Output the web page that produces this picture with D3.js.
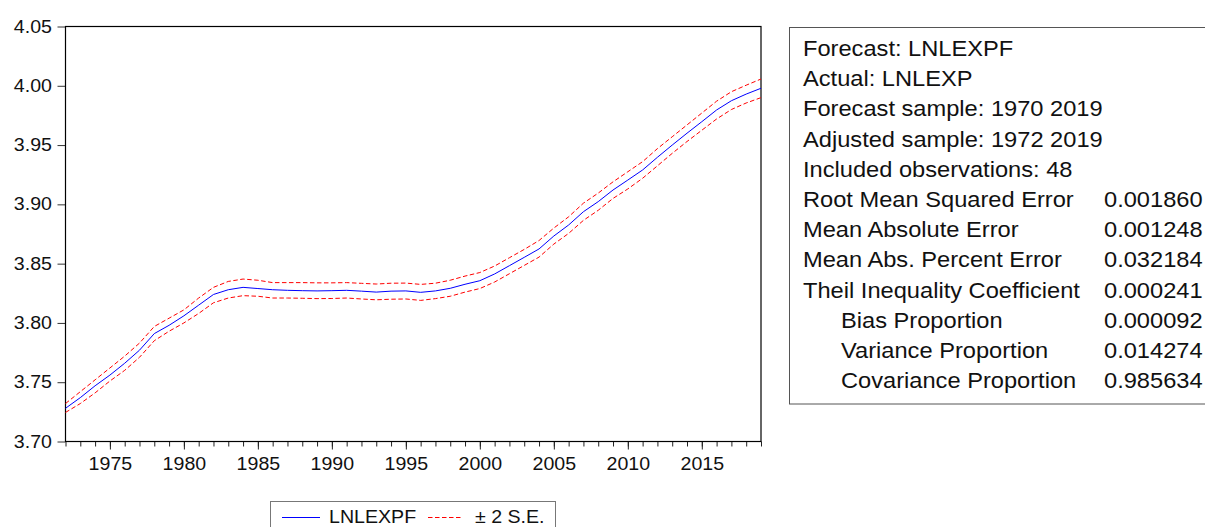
<!DOCTYPE html>
<html>
<head>
<meta charset="utf-8">
<script src="https://cdn.jsdelivr.net/npm/d3@7"></script>
<style>
  body { margin: 0; background: #fff; }
  svg { display: block; font-family: "Liberation Sans", Arial, sans-serif; }
</style>
</head>
<body>
<svg id="chart" width="1205" height="527"></svg>
<script>
// Observation years
const years = [1972, 1973, 1974, 1975, 1976, 1977, 1978, 1979, 1980, 1981,
  1982, 1983, 1984, 1985, 1986, 1987, 1988, 1989, 1990, 1991,
  1992, 1993, 1994, 1995, 1996, 1997, 1998, 1999, 2000, 2001,
  2002, 2003, 2004, 2005, 2006, 2007, 2008, 2009, 2010, 2011,
  2012, 2013, 2014, 2015, 2016, 2017, 2018, 2019];

// Forecast LNLEXPF
const forecast = [3.728, 3.737, 3.747, 3.756, 3.766, 3.777, 3.791, 3.798, 3.806, 3.815,
  3.824, 3.828, 3.830, 3.829, 3.828, 3.8275, 3.8272, 3.827, 3.8272, 3.8275,
  3.8268, 3.826, 3.8268, 3.827, 3.8258, 3.827, 3.8292, 3.8326, 3.8356, 3.8413,
  3.8483, 3.8553, 3.8624, 3.8733, 3.8826, 3.8938, 3.9023, 3.9121, 3.9205, 3.929,
  3.9397, 3.950, 3.960, 3.9697, 3.9796, 3.9874, 3.993, 3.9979];

// Forecast + 2 S.E.
const upper = [3.732, 3.742, 3.752, 3.762, 3.772, 3.783, 3.797, 3.804, 3.811, 3.821,
  3.830, 3.835, 3.837, 3.836, 3.834, 3.834, 3.834, 3.8338, 3.8338, 3.834,
  3.8334, 3.8328, 3.8335, 3.8336, 3.8325, 3.8335, 3.836, 3.8395, 3.8425, 3.848,
  3.855, 3.862, 3.8695, 3.880, 3.8895, 3.901, 3.9095, 3.919, 3.9275, 3.936,
  3.947, 3.957, 3.967, 3.977, 3.987, 3.995, 4.0005, 4.0057];

// Forecast - 2 S.E.
const lower = [3.7245, 3.732, 3.741, 3.751, 3.760, 3.771, 3.785, 3.793, 3.800, 3.808,
  3.817, 3.821, 3.823, 3.8225, 3.821, 3.821, 3.8208, 3.8205, 3.8206, 3.821,
  3.8202, 3.8195, 3.820, 3.8202, 3.819, 3.8205, 3.8225, 3.826, 3.829, 3.8345,
  3.8415, 3.8485, 3.8555, 3.8665, 3.8755, 3.8865, 3.895, 3.905, 3.913, 3.922,
  3.9325, 3.943, 3.953, 3.9625, 3.972, 3.980, 3.9855, 3.990];

const xTickLabels = [1975, 1980, 1985, 1990, 1995, 2000, 2005, 2010, 2015];
const yTickValues = [3.70, 3.75, 3.80, 3.85, 3.90, 3.95, 4.00, 4.05];

// Forecast evaluation summary
const statLabels = ["Forecast: LNLEXPF", "Actual: LNLEXP", "Forecast sample: 1970 2019",
  "Adjusted sample: 1972 2019", "Included observations: 48",
  "Root Mean Squared Error", "Mean Absolute Error", "Mean Abs. Percent Error",
  "Theil Inequality Coefficient", "Bias Proportion", "Variance Proportion",
  "Covariance Proportion"];
const statValues = ["", "", "", "", "", "0.001860", "0.001248", "0.032184",
  "0.000241", "0.000092", "0.014274", "0.985634"];
const statIndent = [0, 0, 0, 0, 0, 0, 0, 0, 0, 1, 1, 1];

const legendLabels = ["LNLEXPF", "\u00b1 2 S.E."];

const svg = d3.select("#chart");
const plotLeft = 65.5, plotRight = 761, plotTop = 26.5, plotBottom = 441.5;
const textStretch = 1.12;
const dash = "4.5,2.5";

const x = d3.scaleLinear().domain([1972, 2019]).range([plotLeft, plotRight]);
const y = d3.scaleLinear().domain([3.70, 4.05]).range([plotBottom, plotTop]);

// Minor yearly ticks
svg.append("g")
  .attr("transform", `translate(0,${plotBottom})`)
  .call(d3.axisBottom(x).tickValues(years).tickSize(5).tickFormat(""))
  .call(g => g.select(".domain").remove())
  .call(g => g.selectAll("line").attr("stroke", "#222"));

// Major ticks with labels
svg.append("g")
  .attr("transform", `translate(0,${plotBottom})`)
  .call(d3.axisBottom(x).tickValues(xTickLabels).tickSize(8).tickFormat(d3.format("d")))
  .call(g => g.select(".domain").remove())
  .call(g => g.selectAll("line").attr("stroke", "#222"))
  .call(g => g.selectAll("text")
    .attr("y", null).attr("dy", null)
    .attr("font-size", 17.5).attr("fill", "#111")
    .attr("font-family", "'Liberation Sans', Arial, sans-serif")
    .attr("transform", `translate(0,28.5) scale(${textStretch},1)`));

// Value axis
svg.append("g")
  .attr("transform", `translate(${plotLeft},0)`)
  .call(d3.axisLeft(y).tickValues(yTickValues).tickSize(8).tickFormat(d3.format(".2f")))
  .call(g => g.select(".domain").remove())
  .call(g => g.selectAll("line").attr("stroke", "#333"))
  .call(g => g.selectAll("text")
    .attr("x", null).attr("dy", null)
    .attr("font-size", 17.5).attr("fill", "#111")
    .attr("font-family", "'Liberation Sans', Arial, sans-serif")
    .attr("transform", `translate(-13.5,5.5) scale(${textStretch},1)`));

// Plot frame
svg.append("rect")
  .attr("x", plotLeft).attr("y", plotTop)
  .attr("width", plotRight - plotLeft).attr("height", plotBottom - plotTop)
  .attr("fill", "none").attr("stroke", "#000").attr("stroke-width", 1.2);

const line = d3.line().x((d, i) => x(years[i])).y(d => y(d));

svg.append("path").datum(upper).attr("d", line)
  .attr("fill", "none").attr("stroke", "#ff0000").attr("stroke-width", 1)
  .attr("stroke-dasharray", dash);
svg.append("path").datum(lower).attr("d", line)
  .attr("fill", "none").attr("stroke", "#ff0000").attr("stroke-width", 1)
  .attr("stroke-dasharray", dash);
svg.append("path").datum(forecast).attr("d", line)
  .attr("fill", "none").attr("stroke", "#0000ff").attr("stroke-width", 1);

// Legend
const legend = svg.append("g");
legend.append("rect")
  .attr("x", 270.5).attr("y", 501.5).attr("width", 285).attr("height", 40)
  .attr("fill", "#fff").attr("stroke", "#777").attr("stroke-width", 1);
legend.append("line")
  .attr("x1", 282).attr("x2", 320).attr("y1", 517.5).attr("y2", 517.5)
  .attr("stroke", "#0000ff").attr("stroke-width", 1);
legend.append("line")
  .attr("x1", 428).attr("x2", 463).attr("y1", 517.5).attr("y2", 517.5)
  .attr("stroke", "#ff0000").attr("stroke-width", 1).attr("stroke-dasharray", dash);
[[329, legendLabels[0]], [475, legendLabels[1]]].forEach(([lx, t]) => {
  legend.append("text")
    .attr("transform", `translate(${lx},523) scale(1.06,1)`)
    .attr("font-size", 18.5).attr("fill", "#111").text(t);
});

// Statistics box
const stats = svg.append("g");
stats.append("rect")
  .attr("x", 789.5).attr("y", 27.5).attr("width", 500).attr("height", 376.5)
  .attr("fill", "#fff").attr("stroke", "#555").attr("stroke-width", 1);
statLabels.forEach((t, i) => {
  const by = 56 + i * 30.2;
  stats.append("text")
    .attr("transform", `translate(${statIndent[i] ? 841 : 803},${by}) scale(1.1,1)`)
    .attr("font-size", 21.5).attr("fill", "#111").text(t);
  if (statValues[i]) {
    stats.append("text")
      .attr("transform", `translate(1104,${by}) scale(1.1,1)`)
      .attr("font-size", 21.5).attr("fill", "#111").text(statValues[i]);
  }
});
</script>
</body>
</html>
